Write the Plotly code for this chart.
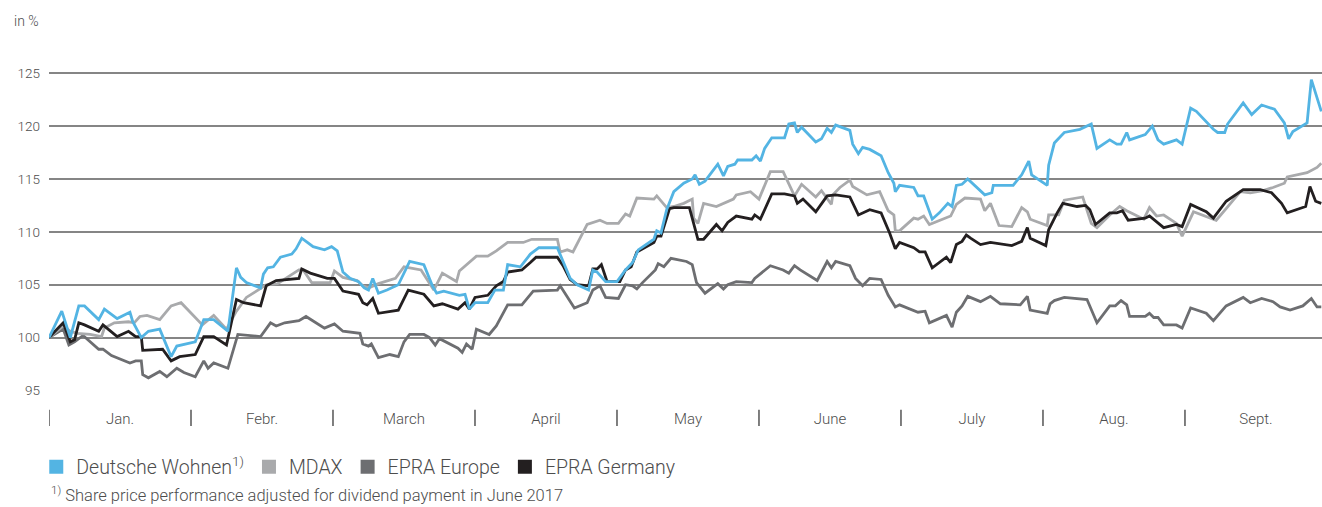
import plotly.graph_objects as go

# x positions are expressed in months since 1 January (0 = start of Jan., 9 = end of Sept.)
months = ["Jan.", "Febr.", "March", "April", "May", "June", "July", "Aug.", "Sept."]
month_starts = [0, 1, 2, 3, 4, 5, 6, 7, 8]
y_ticks = [95, 100, 105, 110, 115, 120, 125]

dw_x = [0.00, 0.09, 0.15, 0.21, 0.25, 0.35, 0.39, 0.48, 0.57, 0.59, 0.65, 0.70, 0.78, 0.86, 0.90,
        1.03, 1.09, 1.16, 1.26, 1.32, 1.35, 1.39, 1.49, 1.51, 1.54, 1.58, 1.63, 1.71, 1.74, 1.78,
        1.81, 1.86, 1.94, 1.99, 2.03, 2.07, 2.12, 2.18, 2.22, 2.25, 2.28, 2.32, 2.38, 2.46, 2.54,
        2.64, 2.70, 2.73, 2.78, 2.89, 2.93, 2.96, 3.00, 3.09, 3.14, 3.20, 3.23, 3.32, 3.39, 3.45,
        3.58, 3.62, 3.67, 3.72, 3.80, 3.83, 3.86, 3.92, 4.00, 4.06, 4.11, 4.15, 4.26, 4.28, 4.31,
        4.35, 4.40, 4.47, 4.53, 4.55, 4.58, 4.62, 4.71, 4.75, 4.78, 4.83, 4.85, 4.95, 4.98, 5.01,
        5.04, 5.09, 5.18, 5.21, 5.25, 5.27, 5.30, 5.40, 5.44, 5.48, 5.51, 5.54, 5.64, 5.66, 5.70,
        5.73, 5.78, 5.86, 5.91, 5.95, 5.96, 5.99, 6.09, 6.12, 6.16, 6.22, 6.27, 6.33, 6.36, 6.39,
        6.43, 6.47, 6.59, 6.64, 6.65, 6.79, 6.85, 6.90, 6.92, 7.03, 7.04, 7.08, 7.15, 7.26, 7.34,
        7.38, 7.47, 7.52, 7.55, 7.59, 7.61, 7.72, 7.77, 7.81, 7.85, 7.94, 7.98, 8.04, 8.08, 8.20,
        8.23, 8.28, 8.30, 8.41, 8.47, 8.54, 8.63, 8.70, 8.73, 8.76, 8.86, 8.89, 8.96]
dw_y = [100.0, 102.5, 100.0, 103.0, 103.0, 101.7, 102.7, 101.8, 102.4, 101.5, 100.0, 100.6, 100.8, 98.2, 99.2,
        99.6, 101.7, 101.7, 100.6, 106.6, 105.7, 105.2, 104.7, 106.0, 106.6, 106.7, 107.6, 107.9, 108.4, 109.4,
        109.1, 108.6, 108.3, 108.6, 108.2, 106.2, 105.6, 105.3, 104.7, 104.5, 105.6, 104.2, 104.5, 105.0, 107.2,
        106.9, 104.9, 104.2, 104.4, 104.0, 104.1, 102.7, 103.3, 103.3, 104.5, 104.5, 106.9, 106.7, 107.9, 108.5,
        108.5, 107.2, 105.6, 105.0, 104.5, 106.4, 106.2, 105.3, 105.3, 106.4, 107.1, 108.3, 109.3, 110.1, 109.9,
        112.1, 113.8, 114.6, 115.0, 115.4, 114.5, 114.8, 116.4, 115.3, 116.2, 116.4, 116.8, 116.8, 117.2, 116.7,
        117.9, 118.9, 118.9, 120.2, 120.3, 119.4, 119.9, 118.5, 118.8, 119.8, 119.4, 120.1, 119.6, 118.3, 117.4,
        118.0, 117.8, 117.2, 115.6, 114.6, 113.8, 114.4, 114.2, 113.4, 113.4, 111.2, 111.8, 112.7, 112.4, 114.4,
        114.5, 115.0, 113.5, 113.7, 114.4, 114.4, 115.4, 116.7, 115.4, 114.4, 116.3, 118.4, 119.4, 119.7, 120.2,
        117.9, 118.7, 118.3, 118.3, 119.4, 118.7, 119.2, 120.0, 118.7, 118.3, 118.7, 118.3, 121.7, 121.4, 119.7,
        119.4, 119.4, 120.2, 122.2, 121.1, 122.0, 121.6, 120.3, 118.8, 119.5, 120.3, 124.4, 121.4]

mdax_x = [0.00, 0.10, 0.15, 0.20, 0.29, 0.37, 0.39, 0.46, 0.56, 0.60, 0.64, 0.69, 0.78, 0.86, 0.93,
          1.08, 1.16, 1.25, 1.32, 1.39, 1.53, 1.61, 1.76, 1.79, 1.85, 1.98, 2.01, 2.07, 2.17, 2.21,
          2.25, 2.32, 2.44, 2.50, 2.62, 2.71, 2.77, 2.87, 2.89, 3.01, 3.09, 3.15, 3.23, 3.34, 3.40,
          3.58, 3.60, 3.65, 3.69, 3.79, 3.88, 3.93, 4.01, 4.06, 4.09, 4.14, 4.26, 4.28, 4.35, 4.40,
          4.47, 4.53, 4.54, 4.57, 4.61, 4.70, 4.82, 4.84, 4.94, 5.00, 5.08, 5.17, 5.25, 5.30, 5.40,
          5.44, 5.51, 5.52, 5.57, 5.64, 5.66, 5.76, 5.85, 5.91, 5.95, 5.96, 5.99, 6.09, 6.12, 6.16,
          6.20, 6.35, 6.39, 6.45, 6.56, 6.59, 6.63, 6.69, 6.78, 6.85, 6.89, 6.91, 7.03, 7.04, 7.11,
          7.15, 7.28, 7.34, 7.38, 7.47, 7.54, 7.59, 7.71, 7.75, 7.80, 7.85, 7.94, 7.98, 8.06, 8.22,
          8.29, 8.39, 8.46, 8.55, 8.62, 8.70, 8.72, 8.86, 8.93, 8.96]
mdax_y = [100.0, 101.1, 100.6, 100.4, 100.3, 100.1, 100.9, 101.4, 101.5, 101.4, 102.0, 102.1, 101.7, 103.0, 103.3,
          101.2, 102.1, 100.8, 102.5, 103.8, 105.0, 105.1, 106.4, 106.4, 105.2, 105.2, 106.3, 105.7, 105.4, 104.9,
          104.7, 105.1, 105.6, 106.7, 106.4, 104.5, 106.1, 105.3, 106.3, 107.7, 107.7, 108.2, 109.0, 109.0, 109.3,
          109.3, 108.1, 108.3, 108.1, 110.7, 111.1, 110.8, 110.8, 111.7, 111.5, 113.2, 113.1, 113.4, 112.3, 112.4,
          112.7, 113.1, 111.3, 110.8, 112.7, 112.4, 113.1, 113.5, 113.8, 113.1, 115.7, 115.7, 113.4, 114.5, 113.3,
          113.9, 112.6, 113.5, 114.2, 114.9, 114.3, 113.5, 113.8, 112.0, 111.6, 110.1, 110.1, 111.3, 111.2, 111.5,
          110.7, 111.5, 112.6, 113.2, 113.1, 112.0, 112.7, 110.6, 110.5, 112.3, 111.9, 111.2, 110.6, 111.6, 111.6,
          113.0, 113.3, 110.8, 110.4, 111.6, 112.4, 112.0, 111.2, 112.3, 111.5, 111.6, 110.8, 109.6, 111.9, 111.1,
          112.2, 113.8, 113.7, 113.9, 114.2, 114.6, 115.2, 115.6, 116.1, 116.5]

epra_eu_x = [0.00, 0.10, 0.14, 0.18, 0.24, 0.29, 0.35, 0.38, 0.44, 0.57, 0.61, 0.65, 0.66, 0.70, 0.78,
             0.83, 0.90, 0.95, 1.03, 1.09, 1.12, 1.16, 1.26, 1.33, 1.49, 1.56, 1.60, 1.66, 1.76, 1.81,
             1.94, 2.01, 2.07, 2.19, 2.21, 2.25, 2.27, 2.32, 2.40, 2.46, 2.50, 2.54, 2.64, 2.68, 2.72,
             2.75, 2.88, 2.91, 2.94, 2.98, 3.01, 3.10, 3.15, 3.23, 3.33, 3.41, 3.58, 3.60, 3.62, 3.70,
             3.79, 3.83, 3.88, 3.92, 4.01, 4.06, 4.11, 4.14, 4.18, 4.27, 4.29, 4.33, 4.38, 4.49, 4.53,
             4.56, 4.62, 4.71, 4.75, 4.78, 4.84, 4.95, 4.97, 5.08, 5.17, 5.21, 5.25, 5.29, 5.41, 5.48,
             5.51, 5.54, 5.64, 5.68, 5.73, 5.78, 5.86, 5.91, 5.96, 5.99, 6.12, 6.17, 6.20, 6.32, 6.36,
             6.39, 6.43, 6.47, 6.56, 6.63, 6.70, 6.84, 6.89, 6.91, 7.03, 7.05, 7.08, 7.15, 7.31, 7.38,
             7.47, 7.51, 7.55, 7.59, 7.61, 7.72, 7.75, 7.78, 7.81, 7.85, 7.94, 7.98, 8.04, 8.15, 8.20,
             8.29, 8.41, 8.46, 8.54, 8.62, 8.67, 8.74, 8.83, 8.89, 8.93, 8.96]
epra_eu_y = [100.0, 100.8, 99.3, 99.6, 100.2, 99.6, 98.9, 98.9, 98.3, 97.6, 97.8, 97.8, 96.5, 96.2, 96.8,
             96.3, 97.1, 96.7, 96.3, 97.8, 97.1, 97.6, 97.1, 100.3, 100.1, 101.4, 101.1, 101.4, 101.6, 102.0,
             100.9, 101.3, 100.6, 100.4, 99.4, 99.2, 99.4, 98.1, 98.4, 98.2, 99.6, 100.3, 100.3, 100.0, 99.3,
             99.9, 99.0, 98.6, 99.4, 98.9, 100.8, 100.3, 101.1, 103.1, 103.1, 104.4, 104.5, 104.9, 104.5, 102.8,
             103.3, 104.5, 104.9, 103.8, 103.7, 105.0, 104.9, 104.6, 105.2, 106.4, 107.0, 106.7, 107.5, 107.2, 106.9,
             105.2, 104.2, 105.1, 104.6, 105.0, 105.3, 105.2, 105.6, 106.8, 106.4, 106.1, 106.8, 106.4, 105.4, 107.2,
             106.6, 107.2, 106.8, 105.6, 104.9, 105.6, 105.5, 104.0, 102.9, 103.1, 102.4, 102.5, 101.4, 102.1, 101.0,
             102.4, 103.0, 103.9, 103.4, 103.9, 103.2, 103.1, 103.9, 102.6, 102.3, 103.2, 103.5, 103.8, 103.6, 101.4,
             103.0, 103.0, 103.5, 103.1, 102.0, 102.0, 102.3, 101.9, 101.9, 101.2, 101.2, 100.9, 102.8, 102.3, 101.6,
             103.0, 103.8, 103.3, 103.7, 103.4, 102.9, 102.6, 103.0, 103.7, 102.9, 102.9]

epra_de_x = [0.00, 0.10, 0.15, 0.18, 0.21, 0.25, 0.35, 0.38, 0.48, 0.56, 0.61, 0.65, 0.66, 0.75, 0.80,
             0.86, 0.92, 1.03, 1.09, 1.16, 1.25, 1.32, 1.37, 1.49, 1.53, 1.60, 1.67, 1.76, 1.78, 1.84,
             1.96, 2.01, 2.07, 2.18, 2.21, 2.24, 2.28, 2.32, 2.46, 2.53, 2.64, 2.71, 2.77, 2.88, 2.93,
             2.96, 3.00, 3.09, 3.15, 3.20, 3.23, 3.33, 3.39, 3.43, 3.58, 3.62, 3.67, 3.72, 3.80, 3.83,
             3.86, 3.89, 3.93, 4.02, 4.06, 4.10, 4.14, 4.26, 4.28, 4.31, 4.37, 4.40, 4.51, 4.54, 4.57,
             4.61, 4.70, 4.74, 4.78, 4.84, 4.95, 4.97, 5.01, 5.09, 5.18, 5.25, 5.27, 5.31, 5.40, 5.48,
             5.54, 5.64, 5.70, 5.78, 5.86, 5.92, 5.96, 5.99, 6.09, 6.13, 6.17, 6.22, 6.32, 6.35, 6.39,
             6.43, 6.46, 6.49, 6.56, 6.63, 6.78, 6.85, 6.89, 6.91, 7.02, 7.04, 7.10, 7.14, 7.24, 7.30,
             7.33, 7.37, 7.47, 7.52, 7.56, 7.60, 7.72, 7.75, 7.85, 7.94, 7.98, 8.04, 8.15, 8.20, 8.29,
             8.41, 8.53, 8.61, 8.68, 8.72, 8.85, 8.88, 8.92, 8.96]
epra_de_y = [100.0, 101.4, 99.6, 99.8, 101.4, 101.2, 100.6, 101.2, 100.1, 100.6, 100.1, 100.1, 98.8, 98.9, 98.9,
             97.8, 98.2, 98.4, 100.1, 100.1, 99.3, 103.6, 103.3, 103.0, 104.9, 105.4, 105.5, 105.6, 106.5, 106.1,
             105.6, 105.6, 104.4, 104.1, 103.3, 103.1, 103.7, 102.3, 102.6, 104.5, 104.1, 103.0, 103.2, 102.7, 103.3,
             102.7, 103.8, 104.0, 104.9, 105.3, 106.2, 106.4, 107.1, 107.6, 107.6, 106.8, 105.5, 105.0, 104.9, 106.5,
             106.5, 106.9, 105.3, 105.3, 106.4, 106.7, 108.1, 109.0, 109.6, 109.6, 112.2, 112.3, 112.3, 110.7, 109.3,
             109.3, 110.7, 110.1, 110.9, 111.5, 111.2, 111.6, 111.2, 113.6, 113.6, 113.4, 112.7, 113.1, 111.9, 113.4,
             113.5, 113.3, 111.6, 112.1, 111.8, 109.9, 108.4, 109.0, 108.5, 108.1, 108.1, 106.6, 107.6, 107.1, 108.8,
             109.1, 109.7, 109.4, 108.8, 109.0, 108.7, 109.1, 110.4, 109.4, 108.7, 110.2, 111.8, 112.7, 112.4, 112.5,
             112.1, 110.7, 111.8, 111.8, 112.0, 111.1, 111.3, 111.5, 110.4, 110.7, 110.5, 112.6, 111.9, 111.3, 112.9,
             114.0, 114.0, 113.7, 112.7, 111.8, 112.4, 114.3, 112.9, 112.7]

names = ["Deutsche Wohnen<sup>1)</sup>", "MDAX", "EPRA Europe", "EPRA Germany"]
colors = ["#53b4e3", "#a9aaac", "#6d6e71", "#231f20"]

TEXT = "#4d4d4d"
FONT = "Roboto"

fig = go.Figure()

# drawing order: EPRA Europe, MDAX, EPRA Germany, Deutsche Wohnen on top
series = [
    (epra_eu_x, epra_eu_y, 2),
    (mdax_x, mdax_y, 1),
    (epra_de_x, epra_de_y, 3),
    (dw_x, dw_y, 0),
]
for xs, ys, idx in series:
    fig.add_trace(go.Scatter(x=xs, y=ys, mode="lines", name=names[idx],
                             line=dict(color=colors[idx], width=2.8),
                             showlegend=False, hoverinfo="skip"))

# legend entries with square swatches
for idx in range(4):
    fig.add_trace(go.Scatter(x=[None], y=[None], mode="markers", name=names[idx],
                             marker=dict(symbol="square", size=14, color=colors[idx]),
                             showlegend=True))

# month separators below the axis
for m in month_starts:
    fig.add_shape(type="line", xref="x", yref="paper", x0=m, x1=m,
                  y0=-0.058, y1=-0.108, line=dict(color="#555555", width=1.5))

fig.update_layout(
    width=1322, height=507,
    margin=dict(l=49, r=0, t=68, b=116, autoexpand=False),
    paper_bgcolor="white", plot_bgcolor="white",
    font=dict(family=FONT, color=TEXT),
    showlegend=True,
    legend=dict(orientation="h", x=-0.01, xanchor="left", y=-0.175, yanchor="top",
                font=dict(size=19.5, color=TEXT, family=FONT, weight=300), itemwidth=30,
                tracegroupgap=0, bgcolor="rgba(0,0,0,0)"),
    xaxis=dict(range=[0, 8.965], showgrid=False, zeroline=False, showline=False,
               tickmode="array", tickvals=[m + 0.5 for m in month_starts], ticktext=months,
               ticks="", ticklabelstandoff=17,
               tickfont=dict(size=15, color=TEXT, family=FONT, weight=300),
               fixedrange=True),
    yaxis=dict(range=[94.95, 125.5], tickmode="array", tickvals=y_ticks,
               showgrid=True, gridcolor="#858585", gridwidth=1.6, zeroline=False, showline=False,
               ticks="", ticklabelstandoff=8,
               tickfont=dict(size=13.5, color=TEXT, family=FONT, weight=300),
               fixedrange=True),
    annotations=[
        dict(text="in %", xref="paper", yref="paper", x=-0.018, y=1.144, xanchor="center",
             yanchor="middle", showarrow=False,
             font=dict(size=14, color=TEXT, family=FONT, weight=300)),
        dict(text="<sup>1)</sup> Share price performance adjusted for dividend payment in June 2017",
             xref="paper", yref="paper", x=0, y=-0.318, xanchor="left", yanchor="middle",
             showarrow=False, font=dict(size=16.5, color=TEXT, family=FONT, weight=300)),
    ],
)

fig.write_html(
    "out.html",
    config={"displayModeBar": False},
    post_script="document.body.style.margin='0px';document.body.style.overflow='hidden';",
)
